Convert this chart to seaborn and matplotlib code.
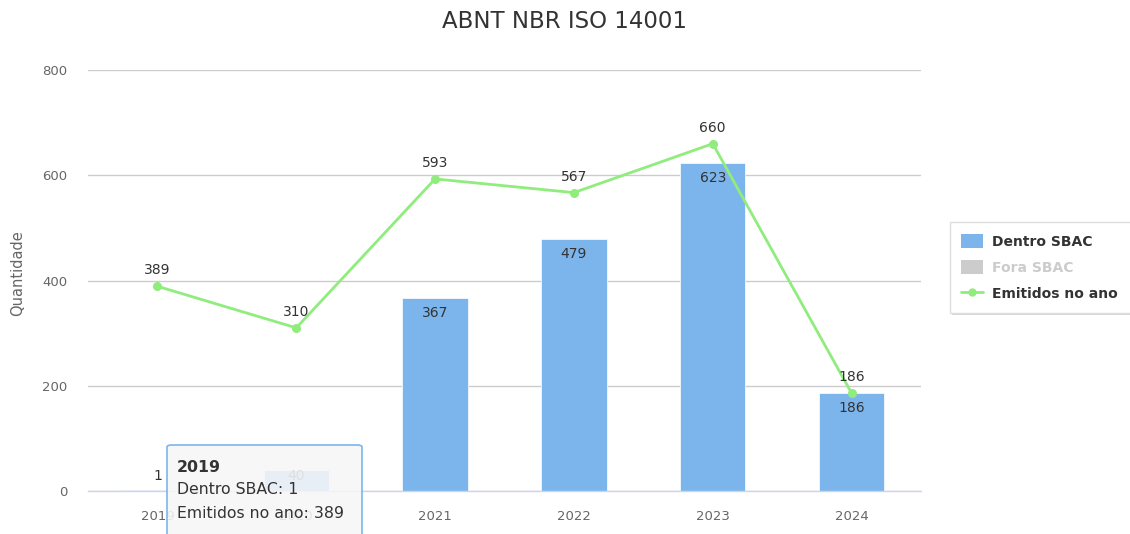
import matplotlib
matplotlib.use("Agg")
import matplotlib.pyplot as plt
import seaborn as sns
import numpy as np
import pandas as pd
from matplotlib.patches import Patch, FancyBboxPatch, Rectangle
from matplotlib.lines import Line2D

# ---- data ----
years = ["2019", "2020", "2021", "2022", "2023", "2024"]
dentro_sbac = [1, 40, 367, 479, 623, 186]
emitidos_ano = [389, 310, 593, 567, 660, 186]
y_ticks = [0, 200, 400, 600, 800]
title = "ABNT NBR ISO 14001"
y_label = "Quantidade"
legend_labels = ["Dentro SBAC", "Fora SBAC", "Emitidos no ano"]
tooltip_title = "2019"
tooltip_lines = ["Dentro SBAC: 1", "Emitidos no ano: 389"]

BAR_C = "#7cb5ec"
LINE_C = "#90ed7d"
GRID_C = "#cccccc"
AXIS_C = "#ccd6eb"
TXT = "#666666"
DARK = "#333333"

sns.set_theme(style="white")
plt.rcParams["font.family"] = ["DejaVu Sans"]

W, H, DPI = 1130, 534, 100
fig = plt.figure(figsize=(W / DPI, H / DPI), dpi=DPI)
L, R, T, B = 88, 921, 70, 491
ax = fig.add_axes([L / W, (H - B) / H, (R - L) / W, (B - T) / H])

df = pd.DataFrame({"ano": years, "dentro": dentro_sbac, "emitidos": emitidos_ano})

sns.barplot(data=df, x="ano", y="dentro", color=BAR_C, width=0.47,
            saturation=1, ax=ax, zorder=2, edgecolor="white", linewidth=0.5)
sns.pointplot(data=df, x="ano", y="emitidos", color=LINE_C, markers="o",
              markersize=5, linewidth=2, ax=ax)
for ln in ax.lines:
    ln.set_zorder(4)

ax.set_xlim(-0.5, len(years) - 0.5)
ax.set_ylim(0, 800)
ax.set_yticks(y_ticks)
ax.grid(axis="y", color=GRID_C, linewidth=1, zorder=0)
ax.set_axisbelow(True)
for s in ["top", "right", "left"]:
    ax.spines[s].set_visible(False)
ax.spines["bottom"].set_color(AXIS_C)
ax.spines["bottom"].set_linewidth(1)
ax.spines["bottom"].set_zorder(3)

ax.tick_params(axis="y", length=0, pad=15, labelsize=9.5, labelcolor=TXT)
ax.tick_params(axis="x", which="major", length=0, pad=14, labelsize=9.5, labelcolor=TXT)
ax.set_xticks(np.arange(-0.5, len(years) + 0.5, 1), minor=True)
ax.tick_params(axis="x", which="minor", length=7, width=1, color=AXIS_C)
ax.set_xlabel("")
ax.set_ylabel("")
fig.text(18 / W, 1 - 273 / H, y_label, rotation=90, ha="center", va="center",
         fontsize=10.5, color=TXT)

# data labels
px_per_unit = (B - T) / 800.0
px2pt = 72.0 / DPI
for i, v in enumerate(dentro_sbac):
    if v * px_per_unit > 30:
        anchor, off = v, -15
    else:
        anchor, off = 0, 15
    ax.annotate(str(v), (i, anchor), xytext=(0, off * px2pt), textcoords="offset points",
                ha="center", va="center", fontsize=10, color=DARK, zorder=6)
for i, v in enumerate(emitidos_ano):
    ax.annotate(str(v), (i, v), xytext=(0, 16 * px2pt), textcoords="offset points",
                ha="center", va="center", fontsize=10, color=DARK, zorder=6)

# title
fig.text(565 / W, 1 - 22 / H, title, ha="center", va="center", fontsize=16.5, color=DARK)

# legend frame (with shadow), extending past the right edge
shadow = Rectangle(((950 + 2) / W, 1 - (313 + 2) / H), 200 / W, 91 / H,
                   transform=fig.transFigure, facecolor="#d8d8d8", edgecolor="none",
                   zorder=1, clip_on=False)
frame = Rectangle((950 / W, 1 - 313 / H), 200 / W, 91 / H,
                  transform=fig.transFigure, facecolor="white", edgecolor="#dddddd",
                  linewidth=1, zorder=2, clip_on=False)
fig.patches.extend([shadow, frame])

handles = [
    Patch(facecolor=BAR_C, edgecolor="none"),
    Patch(facecolor="#cccccc", edgecolor="none"),
    Line2D([0], [0], color=LINE_C, lw=2, marker="o", markersize=5),
]
leg = fig.legend(handles, legend_labels, loc="upper left",
                 bbox_to_anchor=(961 / W, 1 - 234 / H), frameon=False,
                 prop={"weight": "bold", "size": 10},
                 handlelength=1.6, handleheight=1.15, handletextpad=0.6,
                 labelspacing=0.82, borderpad=0, borderaxespad=0)
leg.set_zorder(3)
cols = [DARK, "#cccccc", DARK]
for t, c in zip(leg.get_texts(), cols):
    t.set_color(c)

# tooltip
tx0, ty0, tw, th = 167, 445, 195, 100
box = FancyBboxPatch((tx0 / W, 1 - (ty0 + th) / H), tw / W, th / H,
                     boxstyle="round,pad=0,rounding_size=0.004",
                     transform=fig.transFigure, facecolor=(0.97, 0.97, 0.97, 0.88),
                     edgecolor=BAR_C, linewidth=1.2, zorder=10, clip_on=False)
fig.patches.append(box)
fig.text(177 / W, 1 - 467 / H, tooltip_title, ha="left", va="center",
         fontsize=11.3, fontweight="bold", color=DARK, zorder=11)
for k, line in enumerate(tooltip_lines):
    fig.text(177 / W, 1 - (490 + 23 * k) / H, line, ha="left", va="center",
             fontsize=11.3, color=DARK, zorder=11)

fig.savefig("out.png", dpi=DPI)
